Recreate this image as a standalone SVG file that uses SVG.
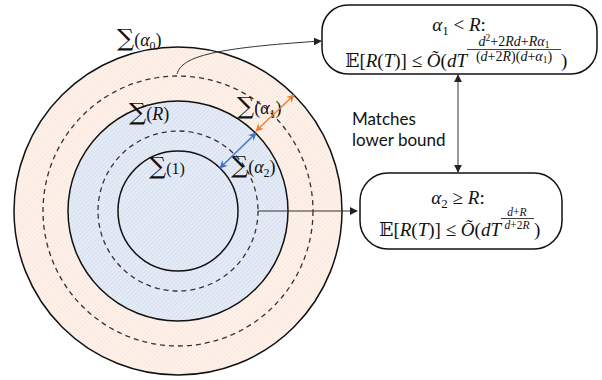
<svg xmlns="http://www.w3.org/2000/svg" width="602" height="380" viewBox="0 0 602 380">
<defs>
<pattern id="hatchPeach" width="3" height="3" patternUnits="userSpaceOnUse" patternTransform="rotate(45)">
<rect width="3" height="3" fill="#fdf2eb"/>
<line x1="0" y1="0" x2="0" y2="3" stroke="#f9ddcb" stroke-width="1"/>
</pattern>
<pattern id="hatchBlue" width="3" height="3" patternUnits="userSpaceOnUse" patternTransform="rotate(45)">
<rect width="3" height="3" fill="#e6ecf6"/>
<line x1="0" y1="0" x2="0" y2="3" stroke="#c3d2ea" stroke-width="1"/>
</pattern>
<marker id="arr" viewBox="0 0 10 10" refX="9" refY="5" markerWidth="8" markerHeight="8" markerUnits="userSpaceOnUse" orient="auto-start-reverse">
<path d="M0,0 L10,5 L0,10 z" fill="#222"/>
</marker>
<marker id="arrO" viewBox="0 0 10 10" refX="9" refY="5" markerWidth="8" markerHeight="8" markerUnits="userSpaceOnUse" orient="auto-start-reverse">
<path d="M0,0 L10,5 L0,10 L3,5 z" fill="#ed7d31"/>
</marker>
<marker id="arrB" viewBox="0 0 10 10" refX="9" refY="5" markerWidth="8" markerHeight="8" markerUnits="userSpaceOnUse" orient="auto-start-reverse">
<path d="M0,0 L10,5 L0,10 L3,5 z" fill="#4472c4"/>
</marker>
</defs>
<style>
.peach{fill:url(#hatchPeach);stroke:#111;stroke-width:1.5}
.blue{fill:url(#hatchBlue);stroke:#111;stroke-width:1.5}
.solid{fill:none;stroke:#111;stroke-width:1.5}
.dash{fill:none;stroke:#333;stroke-width:1.3;stroke-dasharray:5 4}
.box{fill:#fff;stroke:#111;stroke-width:1.5}
.m{font-family:"Liberation Serif","DejaVu Serif",serif;fill:#111}
.i{font-style:italic}
.sig{font-family:"DejaVu Serif","Liberation Serif",serif;font-size:24px}
.lab{font-family:"Liberation Serif","DejaVu Serif",serif;font-size:18px;fill:#111}
.sans{font-family:Lato,"Open Sans",sans-serif;font-size:17px;fill:#111}
.conn{fill:none;stroke:#333;stroke-width:1}
</style>

<g id="regions">
<circle cx="178" cy="211" r="164" class="peach"/>
<circle cx="178" cy="211" r="135" class="dash"/>
<circle cx="178" cy="211" r="110" class="blue"/>
<circle cx="178" cy="211" r="80" class="dash"/>
<circle cx="178" cy="211" r="60" class="solid"/>
</g>

<g id="labels">
<text x="117" y="46" class="lab"><tspan class="sig">∑</tspan><tspan>(</tspan><tspan class="i">α</tspan><tspan font-size="12" dy="4">0</tspan><tspan dy="-4">)</tspan></text>
<text x="129" y="120" class="lab"><tspan class="sig">∑</tspan><tspan>(</tspan><tspan class="i">R</tspan><tspan>)</tspan></text>
<text x="149" y="174" class="lab"><tspan class="sig">∑</tspan><tspan font-size="16">(1)</tspan></text>
<text x="237" y="114" class="lab"><tspan class="sig">∑</tspan><tspan>(</tspan><tspan class="i">α</tspan><tspan font-size="12" dy="4">1</tspan><tspan dy="-4">)</tspan></text>
<text x="231" y="173" class="lab"><tspan class="sig">∑</tspan><tspan>(</tspan><tspan class="i">α</tspan><tspan font-size="12" dy="4">2</tspan><tspan dy="-4">)</tspan></text>
</g>

<g id="box1">
<rect x="322" y="5" width="275" height="69" rx="26" ry="26" class="box"/>
<text x="459" y="31" text-anchor="middle" class="m" font-size="19"><tspan class="i">α</tspan><tspan font-size="13" dy="4">1</tspan><tspan dy="-4"> &lt; </tspan><tspan class="i">R</tspan><tspan>:</tspan></text>
<text x="467" y="67" text-anchor="end" class="m" font-size="19"><tspan>𝔼[</tspan><tspan class="i">R</tspan><tspan>(</tspan><tspan class="i">T</tspan><tspan>)] ≤ </tspan><tspan class="i">Õ</tspan><tspan>(</tspan><tspan class="i">dT</tspan></text>
<text x="514" y="46" text-anchor="middle" class="m" font-size="14"><tspan class="i">d</tspan><tspan font-size="9.5" dy="-5">2</tspan><tspan dy="5">+2</tspan><tspan class="i">Rd</tspan><tspan>+</tspan><tspan class="i">Rα</tspan><tspan font-size="9.5" dy="2">1</tspan></text>
<line x1="467" y1="49.5" x2="561" y2="49.5" stroke="#111" stroke-width="0.8"/>
<text x="514" y="61" text-anchor="middle" class="m" font-size="14"><tspan>(</tspan><tspan class="i">d</tspan><tspan>+2</tspan><tspan class="i">R</tspan><tspan>)(</tspan><tspan class="i">d</tspan><tspan>+</tspan><tspan class="i">α</tspan><tspan font-size="9.5" dy="2">1</tspan><tspan dy="-2">)</tspan></text>
<text x="561" y="67" class="m" font-size="19">)</text>
</g>

<g id="box2">
<rect x="360" y="173" width="202" height="76" rx="28" ry="28" class="box"/>
<text x="458" y="204" text-anchor="middle" class="m" font-size="19"><tspan class="i">α</tspan><tspan font-size="13" dy="4">2</tspan><tspan dy="-4"> ≥ </tspan><tspan class="i">R</tspan><tspan>:</tspan></text>
<text x="501" y="236" text-anchor="end" class="m" font-size="19"><tspan>𝔼[</tspan><tspan class="i">R</tspan><tspan>(</tspan><tspan class="i">T</tspan><tspan>)] ≤ </tspan><tspan class="i">Õ</tspan><tspan>(</tspan><tspan class="i">dT</tspan></text>
<text x="517" y="215.5" text-anchor="middle" class="m" font-size="11.5"><tspan class="i">d</tspan><tspan>+</tspan><tspan class="i">R</tspan></text>
<line x1="501" y1="218.5" x2="534" y2="218.5" stroke="#111" stroke-width="0.8"/>
<text x="517" y="228.5" text-anchor="middle" class="m" font-size="11.5"><tspan class="i">d</tspan><tspan>+2</tspan><tspan class="i">R</tspan></text>
<text x="534" y="236" class="m" font-size="19">)</text>
</g>

<g id="note">
<text x="352" y="125" class="sans">Matches</text>
<text x="352" y="146" class="sans">lower bound</text>
</g>

<g id="connectors">
<path d="M177,74 C182,56 215,48 321,41" class="conn" marker-end="url(#arr)"/>
<line x1="258" y1="211" x2="357" y2="211" class="conn" marker-end="url(#arr)"/>
<line x1="458" y1="75" x2="458" y2="172" class="conn" marker-start="url(#arr)" marker-end="url(#arr)"/>
<line x1="256" y1="131" x2="294" y2="95" stroke="#ed7d31" stroke-width="1.3" marker-start="url(#arrO)" marker-end="url(#arrO)"/>
<line x1="220" y1="168" x2="256" y2="133" stroke="#4472c4" stroke-width="1.3" marker-start="url(#arrB)" marker-end="url(#arrB)"/>
</g>
</svg>
